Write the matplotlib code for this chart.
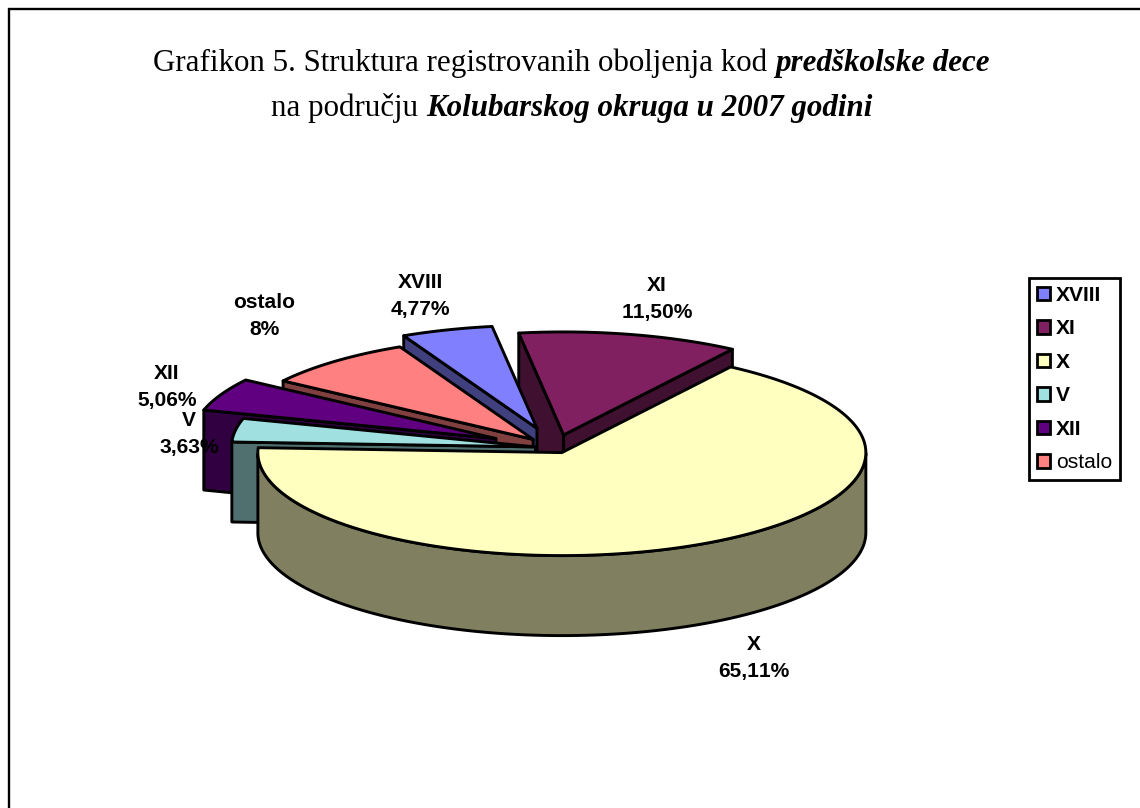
import numpy as np
import matplotlib
matplotlib.use("Agg")
import matplotlib.pyplot as plt
from matplotlib.patches import Polygon, Patch

# Spaced digits as in the office-style labels: no pair kerning
plt.rcParams["text.kerning_factor"] = 12

# Disease groups in drawing order around the pie (clockwise from the first slice)
categories = ["XVIII", "XI", "X", "V", "XII", "ostalo"]
shares = [4.77, 11.50, 65.11, 3.63, 5.06, 8.0]
share_labels = ["4,77%", "11,50%", "65,11%", "3,63%", "5,06%", "8%"]
top_colors = ["#8080FF", "#802060", "#FFFFC0", "#A0E0E0", "#600080", "#FF8080"]
side_colors = ["#40407F", "#401030", "#808060", "#507070", "#300040", "#804040"]
explode = [0.20, 0.13, 0.05, 0.065, 0.215, 0.11]

title_line1 = [("Grafikon 5. Struktura registrovanih oboljenja kod ", False),
               ("predškolske dece", True)]
title_line2 = [("na području ", False), ("Kolubarskog okruga u 2007 godini", True)]

# Canvas is addressed in pixels, with y growing downward
W, H = 1140, 808
fig = plt.figure(figsize=(W / 100, H / 100), dpi=100)
ax = fig.add_axes([0, 0, 1, 1])
ax.set_xlim(0, W)
ax.set_ylim(H, 0)
ax.axis("off")

# Pie projection
CX, CY = 555, 448
RX, RY = 304, 103
DEPTH = 80
START_DEG = 116
LW = 2.1

# Chart frame: only the left and top edges fall on the canvas
ax.plot([8.5, 8.5, W + 5], [H + 5, 8.5, 8.5], color="black", lw=1.7, zorder=1,
        solid_joinstyle="miter")


def ring(theta, ox, oy, dz=0.0):
    return np.column_stack([ox + RX * np.cos(theta), oy - RY * np.sin(theta) + dz])


total = sum(shares)
edges = [START_DEG]
for s in shares:
    edges.append(edges[-1] - 360 * s / total)


def draw_slice(i, z):
    t1, t2 = np.radians(edges[i]), np.radians(edges[i + 1])
    mid = (t1 + t2) / 2
    ox = CX + explode[i] * RX * np.cos(mid)
    oy = CY - explode[i] * RY * np.sin(mid)
    style = dict(edgecolor="black", linewidth=LW, joinstyle="round", zorder=z)
    apex = np.array([ox, oy])
    down = np.array([0, DEPTH])

    # Radial cut faces that turn toward the viewer
    if np.cos(t1) < 0:
        p = ring(np.array([t1]), ox, oy)[0]
        ax.add_patch(Polygon([apex, p, p + down, apex + down], facecolor=side_colors[i], **style))
    if np.cos(t2) > 0:
        p = ring(np.array([t2]), ox, oy)[0]
        ax.add_patch(Polygon([apex, p, p + down, apex + down], facecolor=side_colors[i], **style))

    # Front part of the rim
    th = np.linspace(t1, t2, 200)
    th = th[np.sin(th) <= 0]
    if th.size:
        pts = np.vstack([ring(th, ox, oy), ring(th[::-1], ox, oy, DEPTH)])
        ax.add_patch(Polygon(pts, facecolor=side_colors[i], **style))

    # Top face
    th = np.linspace(t1, t2, 200)
    pts = np.vstack([apex, ring(th, ox, oy)])
    ax.add_patch(Polygon(pts, facecolor=top_colors[i], **style))


# Back slices first so the nearer ones overlap them
for z, i in enumerate([1, 0, 5, 4, 3, 2]):
    draw_slice(i, 2 + z * 0.1)

# Data labels
label_pos = {"XVIII": (420, 296), "XI": (657, 299), "X": (754, 658),
             "V": (189, 434), "XII": (167, 387), "ostalo": (264, 316)}
label_font = dict(family="Liberation Sans", fontsize=15.1, fontweight="bold", color="black",
                  ha="center", va="center", linespacing=1.48, zorder=10)
for name, lab in zip(categories, share_labels):
    x, y = label_pos[name]
    ax.text(x, y, f"{name}\n{lab}", **label_font)

# Legend
handles = [Patch(facecolor=c, edgecolor="black", linewidth=2) for c in top_colors]
leg = ax.legend(handles, categories, loc="upper left", bbox_to_anchor=(1029 / W, 1 - 278 / H),
                bbox_transform=fig.transFigure, fancybox=False, framealpha=1, edgecolor="black",
                prop={"family": "Liberation Sans", "size": 15.1, "weight": "bold"},
                handlelength=0.6, handleheight=0.6, handletextpad=0.32, labelspacing=0.69,
                borderaxespad=0, borderpad=0.38)
leg.get_frame().set_linewidth(2)
leg.set_zorder(11)
leg.get_texts()[-1].set_fontweight("normal")


# Title lines mix upright and bold-italic runs, so each run is placed by measured width
def centered_runs(runs, y, size=22.3):
    renderer = fig.canvas.get_renderer()
    artists = []
    for s, emph in runs:
        artists.append(ax.text(0, y, s.replace(" ", "\u00a0"), family="Liberation Serif", fontsize=size,
                               fontweight="bold" if emph else "normal",
                               fontstyle="italic" if emph else "normal",
                               ha="left", va="baseline", zorder=12))
    widths = [a.get_window_extent(renderer).width for a in artists]
    x = 571.5 - sum(widths) / 2
    for a, w in zip(artists, widths):
        a.set_x(x)
        x += w


centered_runs(title_line1, 71)
centered_runs(title_line2, 116)

fig.savefig("out.png", dpi=100)
